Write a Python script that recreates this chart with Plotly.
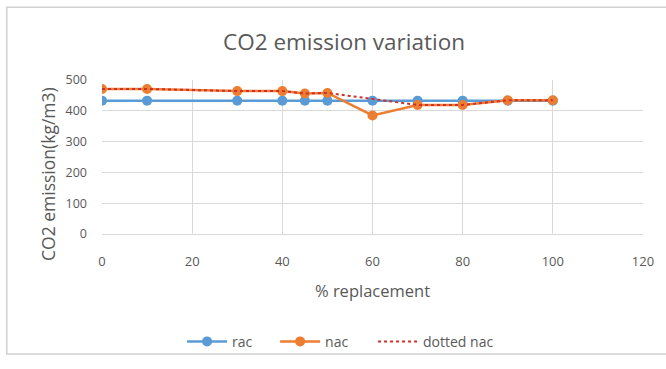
import plotly.graph_objects as go

# % replacement levels and CO2 emission values (kg/m3)
rac_x = [0, 10, 30, 40, 45, 50, 60, 70, 80, 90, 100]
rac_y = [433, 433, 433, 433, 433, 433, 433, 433, 433, 433, 433]

nac_x = [0, 10, 30, 40, 45, 50, 60, 70, 80, 90, 100]
nac_y = [471, 471, 464, 464, 456, 458, 385, 419, 419, 434, 434]

dotted_x = [0, 10, 30, 40, 45, 50, 70, 80, 90, 100]
dotted_y = [471, 471, 464, 464, 456, 458, 419, 419, 434, 434]

x_ticks = [0, 20, 40, 60, 80, 100, 120]
y_ticks = [0, 100, 200, 300, 400, 500]

FONT = "Open Sans"
GREY = "#595959"
GRID = "#d9d9d9"

fig = go.Figure()
fig.add_trace(go.Scatter(
    x=rac_x, y=rac_y, name="rac", mode="lines+markers", legend="legend",
    line=dict(color="#5B9BD5", width=2.5),
    marker=dict(color="#5B9BD5", size=10),
))
fig.add_trace(go.Scatter(
    x=nac_x, y=nac_y, name="nac", mode="lines+markers", legend="legend2",
    line=dict(color="#ED7D31", width=2.5),
    marker=dict(color="#ED7D31", size=10),
))
fig.add_trace(go.Scatter(
    x=dotted_x, y=dotted_y, name="dotted nac", mode="lines", legend="legend3",
    line=dict(color="#D0302A", width=2, dash="dot"),
))

legend_style = dict(orientation="h", xanchor="left", y=-0.70, yanchor="middle",
                    font=dict(size=14, color=GREY), itemwidth=40,
                    bgcolor="rgba(0,0,0,0)")

fig.update_layout(
    width=666, height=369,
    margin=dict(l=102, r=21, t=80, b=131),
    paper_bgcolor="white", plot_bgcolor="white",
    font=dict(family=FONT, color=GREY, size=12),
    title=dict(text="CO2 emission variation", xref="container", x=344 / 666,
               xanchor="center", y=1 - 42 / 369, yanchor="middle",
               font=dict(size=22.5, color=GREY, family=FONT)),
    showlegend=True,
    legend=dict(x=0.148, **legend_style),
    legend2=dict(x=0.320, **legend_style),
    legend3=dict(x=0.501, **legend_style),
    shapes=[dict(type="rect", xref="paper", yref="paper",
                 x0=-0.176, x1=1.3, y0=-0.78, y1=1.472,
                 line=dict(color="#d0d0d0", width=1.5))],
    annotations=[dict(text="CO2 emission(kg/m3)", textangle=-90,
                      xref="paper", yref="paper",
                      x=(48 - 102) / 541, y=(239 - 177) / 159,
                      xanchor="center", yanchor="middle", showarrow=False,
                      font=dict(size=17.5, color=GREY, family=FONT))],
)
fig.update_xaxes(
    range=[0, 120], tickvals=x_ticks, showgrid=True, gridcolor=GRID,
    gridwidth=1, zeroline=False, showline=True, linecolor=GRID,
    ticks="", ticklabelstandoff=15, tickfont=dict(size=13, color=GREY),
    title=dict(text="% replacement", font=dict(size=16.5, color=GREY), standoff=16),
)
fig.update_yaxes(
    range=[0, 500], tickvals=y_ticks, showgrid=True, gridcolor=GRID,
    gridwidth=1, zeroline=False, showline=False,
    ticks="", ticklabelstandoff=14, tickfont=dict(size=12.5, color=GREY),
)

fig.write_html("out.html")
